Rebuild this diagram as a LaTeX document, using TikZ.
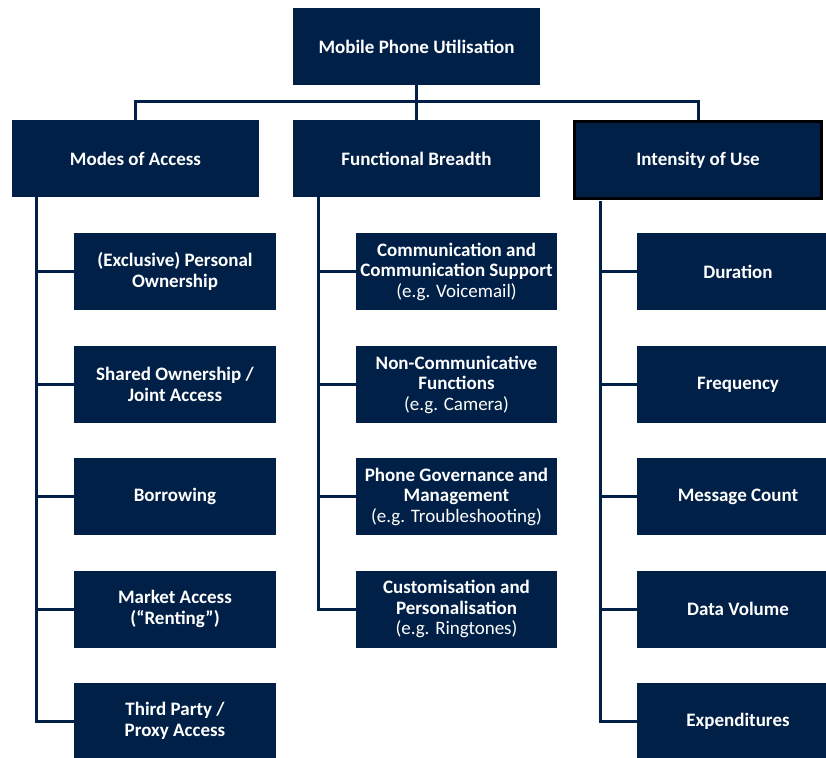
\documentclass[tikz,border=0pt]{standalone}
\usepackage{fontspec}
\setmainfont{Carlito}
\definecolor{navy}{HTML}{012047}
\begin{document}
\begin{tikzpicture}[x=1pt,y=-1pt,
  box/.style={fill=navy,text=white,font=\fontsize{19}{20.5}\selectfont\bfseries,align=center,inner sep=0pt,minimum height=77pt},
  wide/.style={box,minimum width=247pt},
  child/.style={box,minimum width=202pt},
  conn/.style={draw=navy,line width=3pt}]
\useasboundingbox (0,0) rectangle (826,757);
\clip (0,0) rectangle (826,757);
% top
\node[wide] (top) at (416.5,46.5) {Mobile Phone Utilisation};
\node[wide] (moa) at (135.5,158.5) {Modes of Access};
\node[wide] (fb) at (416.5,158.5) {Functional Breadth};
\node[box,minimum width=247pt,minimum height=77pt,draw=black,line width=3pt] (iu) at (698,160) {Intensity of Use};
% bus
\coordinate (bus) at (416.5,102);
\draw[conn] (top.south) -- (bus);
\draw[conn] (moa.north) |- (bus) -| (iu.north);
\draw[conn] (bus) -- (fb.north);
% left column
\node[child] (a1) at (175,271.5) {(Exclusive) Personal\\Ownership};
\node[child] (a2) at (175,384.5) {Shared Ownership /\\Joint Access};
\node[child] (a3) at (175,496.5) {Borrowing};
\node[child] (a4) at (175,609) {Market Access\\(“Renting”)};
\node[child] (a5) at (175,721) {Third Party /\\Proxy Access};
% middle column
\node[child,minimum width=201pt] (b1) at (456.5,271.5) {Communication and\\Communication Support\\\mdseries(e.g. Voicemail)};
\node[child,minimum width=201pt] (b2) at (456.5,384.5) {Non-Communicative\\Functions\\\mdseries(e.g. Camera)};
\node[child,minimum width=201pt] (b3) at (456.5,496.5) {Phone Governance and\\Management\\\mdseries(e.g. Troubleshooting)};
\node[child,minimum width=201pt] (b4) at (456.5,609) {Customisation and\\Personalisation\\\mdseries(e.g. Ringtones)};
% right column
\node[child] (c1) at (738,271.5) {Duration};
\node[child] (c2) at (738,384.5) {Frequency};
\node[child] (c3) at (738,496.5) {Message Count};
\node[child] (c4) at (738,609) {Data Volume};
\node[child] (c5) at (738,721) {Expenditures};
% trunks
\coordinate (ta) at (36,197);
\coordinate (tb) at (318,197);
\coordinate (tc) at (600,201);
\draw[conn] (ta) |- (a5.west);
\foreach \n in {a1,a2,a3,a4} \draw[conn] (\n.west) -- (\n.west -| ta);
\draw[conn] (tb) |- (b4.west);
\foreach \n in {b1,b2,b3} \draw[conn] (\n.west) -- (\n.west -| tb);
\draw[conn] (tc) |- (c5.west);
\foreach \n in {c1,c2,c3,c4} \draw[conn] (\n.west) -- (\n.west -| tc);
\end{tikzpicture}
\end{document}
